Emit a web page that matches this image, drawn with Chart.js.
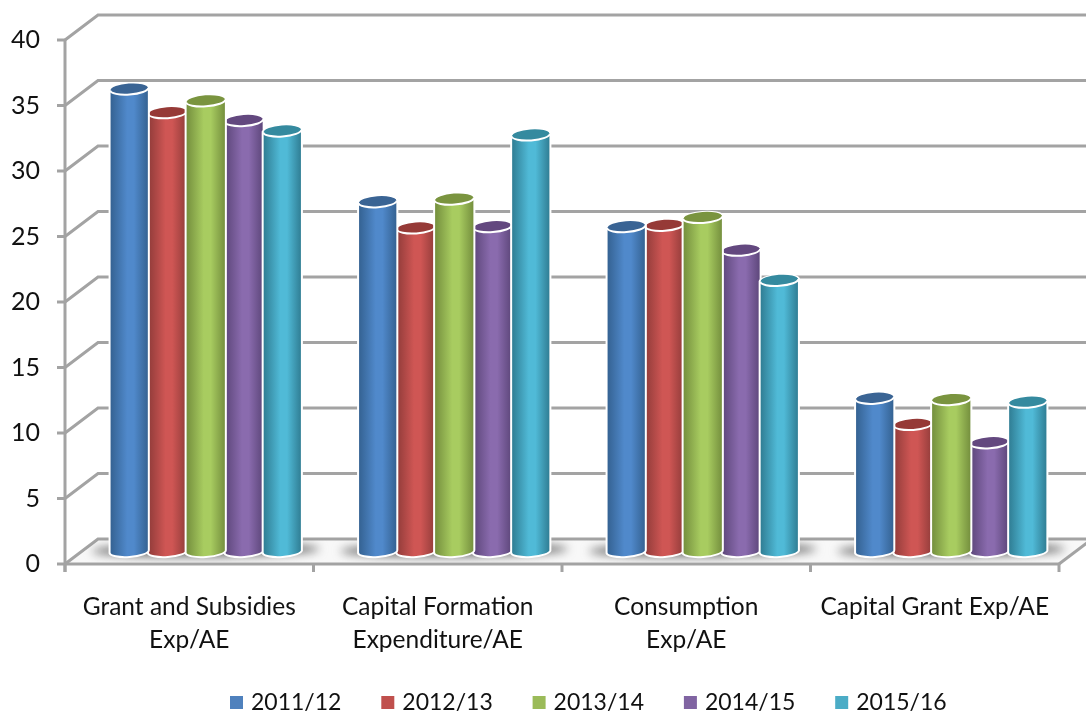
<!DOCTYPE html>
<html>
<head>
<meta charset="utf-8">
<style>
	html, body { margin: 0; padding: 0; background: #fff; }
	#wrap { width: 1086px; height: 713px; }
</style>
<script src="https://cdn.jsdelivr.net/npm/chart.js@4"></script>
</head>
<body>
<div id="wrap"><canvas id="chart" width="1086" height="713"></canvas></div>
<script>
var categories = [['Grant and Subsidies', 'Exp/AE'], ['Capital Formation', 'Expenditure/AE'], ['Consumption', 'Exp/AE'], 'Capital Grant Exp/AE'];
var yTicks = [0, 5, 10, 15, 20, 25, 30, 35, 40];

var values2011 = [35.3, 26.7, 24.8, 11.7];
var values2012 = [33.5, 24.7, 24.9, 9.7];
var values2013 = [34.4, 26.9, 25.5, 11.6];
var values2014 = [32.9, 24.8, 23.0, 8.3];
var values2015 = [32.1, 31.8, 20.7, 11.4];

var seriesNames = ['2011/12', '2012/13', '2013/14', '2014/15', '2015/16'];
var seriesColors = ['#4f81bd', '#c0504d', '#9bbb59', '#8064a2', '#4bacc6'];
var edgeColors = ['#33608f', '#8f3b39', '#728c3c', '#5b4578', '#2e7a90'];
var lightColors = ['#5089cb', '#cf5654', '#a8cc60', '#8a6bae', '#50bad7'];
var capColors = ['#3a6494', '#963a37', '#7a943f', '#63487f', '#358a9f'];

// depth of the fake 3d box
var depthX = 33;
var depthY = 25;
var gridColor = '#a3a3a3';
var fontFamily = 'Lato, "Open Sans", sans-serif';

function line(ctx, x1, y1, x2, y2) {
	ctx.beginPath();
	ctx.moveTo(x1, y1);
	ctx.lineTo(x2, y2);
	ctx.stroke();
}

function drawBox(chart) {
	var ctx = chart.ctx;
	var xs = chart.scales.x;
	var ys = chart.scales.y;
	var left = xs.left;
	var right = xs.right;
	var bottom = ys.getPixelForValue(0);

	// floor
	ctx.save();
	ctx.beginPath();
	ctx.moveTo(left, bottom);
	ctx.lineTo(left + depthX, bottom - depthY);
	ctx.lineTo(right + depthX, bottom - depthY);
	ctx.lineTo(right, bottom);
	ctx.closePath();
	ctx.fillStyle = '#f8f8f8';
	ctx.fill();
	ctx.restore();

	ctx.save();
	ctx.strokeStyle = gridColor;
	ctx.lineWidth = 3;
	yTicks.forEach(function (v) {
		var y = ys.getPixelForValue(v);
		ctx.beginPath();
		ctx.moveTo(left, y);
		ctx.lineTo(left + depthX, y - depthY);
		ctx.lineTo(chart.width, y - depthY);
		ctx.stroke();
		line(ctx, left - 8, y, left, y);
	});
	line(ctx, left, ys.getPixelForValue(40), left, bottom + 8);
	line(ctx, left, bottom, right, bottom);
	line(ctx, right, bottom, right + depthX, bottom - depthY);
	for (var i = 0; i <= categories.length; i++) {
		var tx = left + (right - left) * i / categories.length;
		line(ctx, tx, bottom, tx, bottom + 8);
	}
	ctx.restore();
}

function drawShadows(chart) {
	var ctx = chart.ctx;
	var ys = chart.scales.y;
	var bottom = ys.getPixelForValue(0);
	var first = chart.getDatasetMeta(0).data;
	var last = chart.getDatasetMeta(seriesNames.length - 1).data;

	ctx.save();
	ctx.beginPath();
	ctx.moveTo(chart.scales.x.left, bottom - 2);
	ctx.lineTo(chart.scales.x.left + depthX, bottom - depthY);
	ctx.lineTo(chart.scales.x.right + depthX, bottom - depthY);
	ctx.lineTo(chart.scales.x.right, bottom - 2);
	ctx.closePath();
	ctx.clip();
	ctx.filter = 'blur(5px)';
	ctx.fillStyle = '#6f6f6f';
	first.forEach(function (el, i) {
		var x1 = el.x - el.width / 2 + depthX / 2 - 18;
		var x2 = last[i].x + last[i].width / 2 + depthX / 2 + 18;
		ctx.beginPath();
		ctx.ellipse((x1 + x2) / 2, bottom - 14, (x2 - x1) / 2, 7, -0.01, 0, Math.PI * 2);
		ctx.fill();
	});
	ctx.restore();
}

function drawCylinder(ctx, el, index, bottom) {
	var wide = index == 2 ? 1 : 0.5;
	var cx = el.x + depthX / 2;
	var rx = el.width / 2 + wide;
	var ry = 5.5;
	var tilt = -0.07;
	var top = el.y - depthY / 2;
	var base = bottom - depthY / 2;
	var dy = Math.sin(tilt) * rx;

	var grad = ctx.createLinearGradient(cx - rx, 0, cx + rx, 0);
	grad.addColorStop(0, edgeColors[index]);
	grad.addColorStop(0.45, lightColors[index]);
	grad.addColorStop(0.62, lightColors[index]);
	grad.addColorStop(1, edgeColors[index]);

	ctx.save();
	ctx.beginPath();
	ctx.moveTo(cx - rx, top - dy);
	ctx.lineTo(cx - rx, base - dy);
	ctx.ellipse(cx, base, rx, ry, tilt, Math.PI, 0, true);
	ctx.lineTo(cx + rx, top + dy);
	ctx.ellipse(cx, top, rx, ry, tilt, 0, Math.PI, true);
	ctx.closePath();
	ctx.fillStyle = grad;
	ctx.fill();
	ctx.strokeStyle = '#ffffff';
	ctx.lineWidth = 2;
	ctx.stroke();

	ctx.beginPath();
	ctx.ellipse(cx, top, rx - 1, ry, tilt, 0, Math.PI * 2);
	ctx.fillStyle = capColors[index];
	ctx.fill();
	ctx.strokeStyle = '#ffffff';
	ctx.lineWidth = 2;
	ctx.beginPath();
	ctx.ellipse(cx, top, rx - 0.5, ry, tilt, 0, Math.PI);
	ctx.stroke();
	ctx.restore();
}

var cylinderPlugin = {
	id: 'cylinders',
	beforeDatasetsDraw: function (chart) {
		var ctx = chart.ctx;
		var bottom = chart.scales.y.getPixelForValue(0);
		drawBox(chart);
		drawShadows(chart);
		// even series sit in front of their neighbours
		[1, 3, 0, 2, 4].forEach(function (index) {
			chart.getDatasetMeta(index).data.forEach(function (el) {
				drawCylinder(ctx, el, index, bottom);
			});
		});
		return false;
	}
};

// Chart.js legend gap is tied to the font size, this one is tighter like the original
var legendPlugin = {
	id: 'bottomLegend',
	afterDraw: function (chart) {
		var ctx = chart.ctx;
		ctx.save();
		ctx.font = '23px ' + fontFamily;
		ctx.textBaseline = 'middle';
		ctx.textAlign = 'left';
		seriesNames.forEach(function (name, i) {
			var x = 230 + i * 151.3;
			ctx.fillStyle = seriesColors[i];
			ctx.fillRect(x, 696, 13, 13);
			ctx.fillStyle = '#111111';
			ctx.fillText(name, x + 21, 703);
		});
		ctx.restore();
	}
};

var datasets = [values2011, values2012, values2013, values2014, values2015].map(function (vals, i) {
	return { label: seriesNames[i], data: vals, backgroundColor: seriesColors[i], borderWidth: 0 };
});

new Chart(document.getElementById('chart').getContext('2d'), {
	type: 'bar',
	data: { labels: categories, datasets: datasets },
	plugins: [cylinderPlugin, legendPlugin],
	options: {
		responsive: false,
		animation: false,
		layout: { padding: { top: 40, right: 27, left: 0, bottom: 0 } },
		datasets: { bar: { barPercentage: 1, categoryPercentage: 0.77 } },
		scales: {
			x: {
				grid: { display: false },
				border: { display: false },
				ticks: {
					color: '#111111', maxRotation: 0, autoSkip: false, padding: 18,
					font: { family: fontFamily, size: 24.5, lineHeight: 1.36 }
				},
				afterFit: function (scale) { scale.height = 149; }
			},
			y: {
				min: 0,
				max: 40,
				grid: { display: false },
				border: { display: false },
				ticks: {
					stepSize: 5, color: '#111111', padding: 17,
					font: { family: fontFamily, size: 25 }
				},
				afterFit: function (scale) { scale.width = 65; }
			}
		},
		plugins: {
			tooltip: { enabled: false },
			legend: { display: false }
		}
	}
});
</script>
</body>
</html>
